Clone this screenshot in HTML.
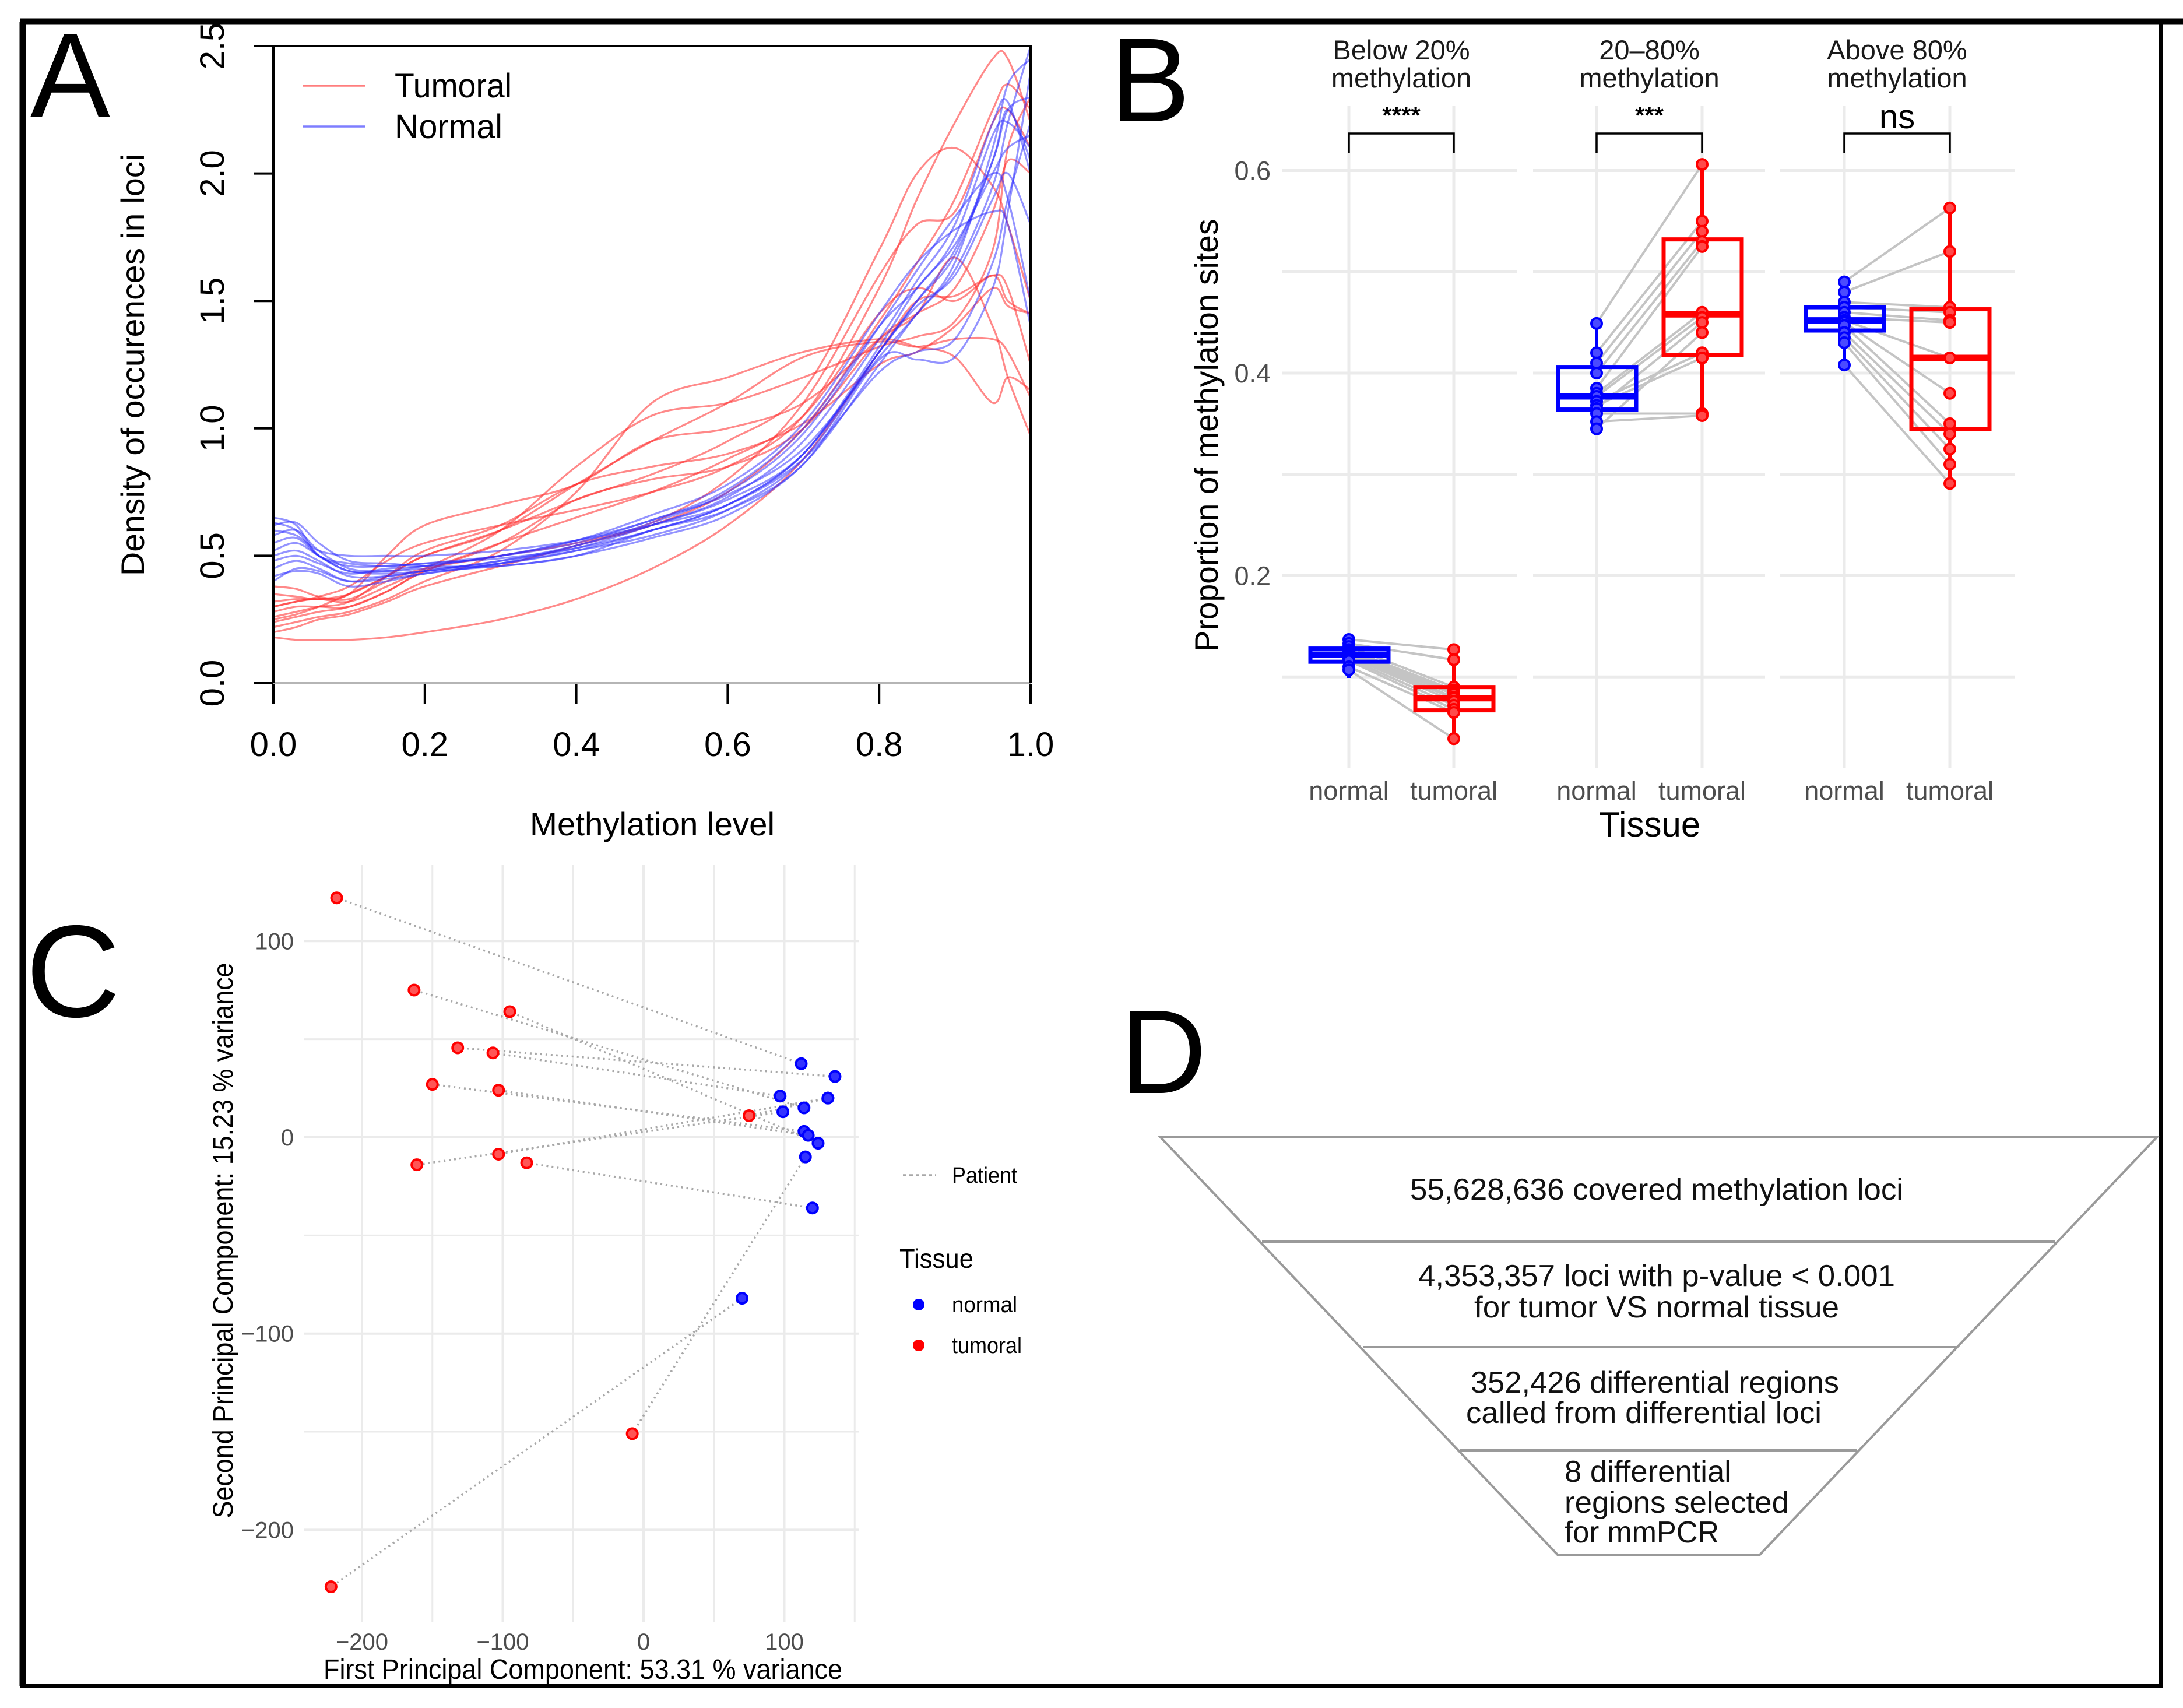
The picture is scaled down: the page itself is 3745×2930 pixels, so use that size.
<!DOCTYPE html>
<html><head><meta charset="utf-8"><style>
html,body{margin:0;padding:0;background:#fff;}
svg{display:block;font-family:"Liberation Sans",Arial,sans-serif;}
</style></head><body>
<svg id="fig" width="3745" height="2930" viewBox="0 0 3745 2930" xmlns="http://www.w3.org/2000/svg">
<rect x="0" y="0" width="3745" height="2930" fill="#fff"/>
<g stroke="#000" stroke-width="11" fill="none">
<line x1="34" y1="37" x2="3745" y2="37"/>
<line x1="39" y1="37" x2="39" y2="2893"/>
<line x1="34" y1="2892" x2="3710" y2="2892" stroke-width="6"/>
<line x1="3707" y1="37" x2="3707" y2="2895" stroke-width="6"/>
</g>
<text x="52" y="200" font-size="205">A</text>
<text x="1905" y="208" font-size="205">B</text>
<text x="44" y="1744" font-size="225">C</text>
<text x="1922" y="1875" font-size="205">D</text>
<g id="pA"></g>
<g id="pB"></g>
<g id="pC"></g>
<g id="pD">
<polygon points="1991,1951 3700,1951 3019,2667 2672,2667" fill="none" stroke="#9a9a9a" stroke-width="4"/>
<line x1="2165" y1="2130" x2="3526" y2="2130" stroke="#9a9a9a" stroke-width="4"/>
<line x1="2338" y1="2311" x2="3359" y2="2311" stroke="#9a9a9a" stroke-width="4"/>
<line x1="2505" y1="2488" x2="3186" y2="2488" stroke="#9a9a9a" stroke-width="4"/>
<g font-size="52" fill="#111" text-anchor="middle">
<text x="2842" y="2058" textLength="846" lengthAdjust="spacingAndGlyphs">55,628,636 covered methylation loci</text>
<text x="2842" y="2206" textLength="818" lengthAdjust="spacingAndGlyphs">4,353,357 loci with p-value &lt; 0.001</text>
<text x="2842" y="2260" textLength="626" lengthAdjust="spacingAndGlyphs">for tumor VS normal tissue</text>
<text x="2839" y="2389" textLength="632" lengthAdjust="spacingAndGlyphs">352,426 differential regions</text>
<text x="2820" y="2441" textLength="610" lengthAdjust="spacingAndGlyphs">called from differential loci</text>
</g>
<g font-size="52" fill="#111">
<text x="2684" y="2542" textLength="286" lengthAdjust="spacingAndGlyphs">8 differential</text>
<text x="2684" y="2595" textLength="385" lengthAdjust="spacingAndGlyphs">regions selected</text>
<text x="2684" y="2646" textLength="265" lengthAdjust="spacingAndGlyphs">for mmPCR</text>
</g>
</g>
</svg>
<script>
// ---------- Panel A data ----------
const densX = [0,0.03,0.06,0.1,0.15,0.2,0.3,0.4,0.5,0.6,0.7,0.8,0.85,0.9,0.95,0.97,1.0];
const normalCurves = [
 [0.62,0.63,0.55,0.48,0.47,0.46,0.46,0.5,0.57,0.66,0.86,1.25,1.45,1.62,1.95,2.2,2.5],
 [0.58,0.6,0.52,0.45,0.44,0.45,0.47,0.52,0.6,0.7,0.9,1.3,1.5,1.7,2.05,2.25,2.3],
 [0.5,0.52,0.48,0.42,0.42,0.44,0.48,0.53,0.62,0.73,0.95,1.35,1.58,1.8,2.2,2.28,2.0],
 [0.45,0.48,0.45,0.4,0.41,0.43,0.47,0.54,0.63,0.75,0.98,1.4,1.62,1.83,2.0,1.9,1.5],
 [0.65,0.62,0.5,0.46,0.46,0.47,0.5,0.55,0.64,0.74,0.92,1.28,1.45,1.65,2.1,2.35,2.45],
 [0.4,0.45,0.44,0.4,0.42,0.44,0.48,0.54,0.62,0.72,0.9,1.3,1.48,1.6,1.9,2.0,1.8],
 [0.52,0.55,0.5,0.44,0.44,0.46,0.5,0.56,0.64,0.76,1.0,1.4,1.55,1.75,2.15,2.2,2.1],
 [0.6,0.58,0.52,0.5,0.5,0.5,0.52,0.56,0.62,0.7,0.88,1.22,1.3,1.35,1.65,1.9,2.2],
 [0.55,0.57,0.5,0.44,0.43,0.44,0.46,0.5,0.6,0.68,0.86,1.27,1.27,1.28,1.55,1.85,2.4],
 [0.48,0.5,0.47,0.43,0.45,0.46,0.5,0.56,0.66,0.78,1.02,1.45,1.65,1.78,1.85,1.8,1.4],
 [0.63,0.6,0.5,0.47,0.46,0.47,0.49,0.53,0.6,0.7,0.9,1.32,1.55,1.72,2.0,2.1,2.15],
 [0.42,0.44,0.43,0.38,0.4,0.43,0.47,0.52,0.58,0.68,0.88,1.3,1.5,1.68,2.05,2.25,2.05]
];
const tumoralCurves = [
 [0.3,0.32,0.34,0.38,0.48,0.55,0.62,0.68,0.75,0.85,1.05,1.55,1.9,2.2,2.45,2.45,2.2],
 [0.25,0.27,0.3,0.35,0.42,0.5,0.6,0.72,0.82,0.95,1.15,1.7,2.0,2.1,1.95,1.8,1.5],
 [0.18,0.17,0.17,0.17,0.18,0.2,0.25,0.33,0.45,0.62,0.88,1.3,1.5,1.52,1.6,1.55,1.25],
 [0.35,0.34,0.33,0.35,0.5,0.62,0.7,0.78,0.95,1.0,1.1,1.35,1.45,1.67,1.4,1.2,0.97],
 [0.3,0.32,0.33,0.32,0.38,0.45,0.6,0.85,1.05,1.1,1.2,1.32,1.36,1.42,1.7,2.1,2.3],
 [0.28,0.3,0.3,0.3,0.36,0.44,0.55,0.72,0.8,0.85,1.0,1.35,1.45,1.55,1.85,2.05,2.0],
 [0.22,0.24,0.26,0.28,0.33,0.4,0.52,0.75,1.1,1.2,1.3,1.35,1.32,1.28,1.1,1.2,1.15],
 [0.32,0.33,0.33,0.35,0.42,0.5,0.6,0.78,0.95,1.1,1.28,1.34,1.32,1.35,1.35,1.3,1.12],
 [0.24,0.26,0.28,0.3,0.36,0.44,0.55,0.65,0.75,0.88,1.05,1.45,1.55,1.5,1.6,1.5,1.45],
 [0.38,0.37,0.34,0.33,0.4,0.45,0.5,0.55,0.63,0.8,1.1,1.6,1.8,1.85,2.2,2.25,2.1],
 [0.26,0.28,0.3,0.32,0.42,0.52,0.62,0.78,0.85,0.9,1.02,1.25,1.3,1.4,1.55,1.48,1.45],
 [0.2,0.22,0.25,0.27,0.32,0.38,0.46,0.54,0.62,0.75,1.0,1.42,1.65,1.9,2.25,2.35,2.25]
];
const aXTicks = [0,0.2,0.4,0.6,0.8,1.0];
const aXTickLabels = ["0.0","0.2","0.4","0.6","0.8","1.0"];
const aYTicks = [0,0.5,1.0,1.5,2.0,2.5];
const aYTickLabels = ["0.0","0.5","1.0","1.5","2.0","2.5"];

// ---------- Panel B data ----------
const facetTitles1 = ["Below 20%","20\u201380%","Above 80%"];
const facetSig = ["****","***","ns"];
const bNormalPts = [
 [0.137,0.133,0.13,0.127,0.125,0.123,0.122,0.121,0.12,0.118,0.116,0.11,0.107],
 [0.449,0.42,0.41,0.40,0.385,0.38,0.377,0.372,0.368,0.365,0.36,0.352,0.345],
 [0.49,0.48,0.47,0.465,0.46,0.455,0.452,0.45,0.447,0.44,0.435,0.43,0.408]
];
const bTumoralPts = [
 [0.127,0.117,0.09,0.087,0.085,0.083,0.08,0.079,0.076,0.072,0.068,0.065,0.039],
 [0.606,0.55,0.54,0.53,0.525,0.46,0.455,0.42,0.415,0.45,0.36,0.358,0.44],
 [0.563,0.52,0.465,0.46,0.452,0.45,0.415,0.38,0.35,0.34,0.325,0.31,0.291]
];
const bNormalBox = [ // lo, q1, median, q3, hi
 [0.099,0.115,0.122,0.128,0.141],
 [0.345,0.364,0.377,0.406,0.449],
 [0.408,0.442,0.452,0.465,0.49]
];
const bTumoralBox = [
 [0.039,0.067,0.079,0.090,0.127],
 [0.358,0.418,0.458,0.532,0.606],
 [0.291,0.345,0.415,0.463,0.563]
];
const bYTicks = [0.2,0.4,0.6];
const bYTickLabels = ["0.2","0.4","0.6"];
const bYGrid = [0.1,0.2,0.3,0.4,0.5,0.6];
const bCategories = ["normal","tumoral"];

// ---------- Panel C data ----------
const pcaNormalX = [112,136,97,131,99,114,114,117,124,115,120,70,131];
const pcaNormalY = [37.5,31,21,20,13,15,3,1,-3,-10,-36,-82,20];
const pcaTumorX = [-218,-132,-107,75,-161,-163,-150,-103,-95,-8,-83,-222,-103];
const pcaTumorY = [122,45.6,43,11,-14,75,27,24,64,-151,-13,-229,-8.6];
const cXTicks = [-200,-100,0,100];
const cXTickLabels = ["\u2212200","\u2212100","0","100"];
const cYTicks = [-200,-100,0,100];
const cYTickLabels = ["\u2212200","\u2212100","0","100"];

const NS = "http://www.w3.org/2000/svg";
function mk(parent, tag, attrs, text){
  const el = document.createElementNS(NS, tag);
  for (const k in attrs) el.setAttribute(k, attrs[k]);
  if (text !== undefined) el.textContent = text;
  parent.appendChild(el);
  return el;
}
function smoothPath(pts){
  let d = "M" + pts[0][0].toFixed(1) + "," + pts[0][1].toFixed(1);
  for (let i=0;i<pts.length-1;i++){
    const p0 = pts[Math.max(0,i-1)], p1 = pts[i], p2 = pts[i+1], p3 = pts[Math.min(pts.length-1,i+2)];
    const c1x = p1[0] + (p2[0]-p0[0])/6, c1y = p1[1] + (p2[1]-p0[1])/6;
    const c2x = p2[0] - (p3[0]-p1[0])/6, c2y = p2[1] - (p3[1]-p1[1])/6;
    d += " C" + c1x.toFixed(1)+","+c1y.toFixed(1)+" "+c2x.toFixed(1)+","+c2y.toFixed(1)+" "+p2[0].toFixed(1)+","+p2[1].toFixed(1);
  }
  return d;
}

// ================= Panel A =================
(function(){
  const g = document.getElementById('pA');
  const X0=469, X1=1768, Y0=1172, Y1=79;
  const ax = v => X0 + v*(X1-X0);
  const ay = v => Y0 - v/2.5*(Y0-Y1);
  const defs = mk(g,'defs',{});
  const cp = mk(defs,'clipPath',{id:'clipA'});
  mk(cp,'rect',{x:X0,y:Y1,width:X1-X0,height:Y0-Y1});
  let el = mk(g,'line',{x1:X0,y1:Y0,x2:X1,y2:Y0,stroke:'#b5b5b5','stroke-width':4});
  
  
  const cg = mk(g,'g',{'clip-path':'url(#clipA)',fill:'none','stroke-width':3.2});
  tumoralCurves.forEach((c,i)=>{
    const p = mk(cg,'path',{d:smoothPath(c.map((v,j)=>[ax(densX[j]),ay(v)])),stroke:'rgba(255,40,40,0.55)'});
    
    
  });
  normalCurves.forEach((c,i)=>{
    const p = mk(cg,'path',{d:smoothPath(c.map((v,j)=>[ax(densX[j]),ay(v)])),stroke:'rgba(40,40,255,0.5)'});
    
    
  });
  el = mk(g,'path',{d:`M${X0},${Y0} L${X0},${Y1} L${X1},${Y1} L${X1},${Y0}`,fill:'none',stroke:'#000','stroke-width':4});
  
  
  aXTicks.forEach((t,i)=>{
    let tk = mk(g,'line',{x1:ax(t),y1:Y0+2,x2:ax(t),y2:Y0+35,stroke:'#000','stroke-width':4});
    
    
    let lb = mk(g,'text',{x:ax(t),y:1297,'font-size':58,'text-anchor':'middle',fill:'#000'},aXTickLabels[i]);
    
    
  });
  aYTicks.forEach((t,i)=>{
    let tk = mk(g,'line',{x1:X0-33,y1:ay(t),x2:X0,y2:ay(t),stroke:'#000','stroke-width':4});
    
    
    let lb = mk(g,'text',{x:0,y:0,'font-size':58,'text-anchor':'middle',transform:`translate(384,${ay(t)}) rotate(-90)`,fill:'#000'},aYTickLabels[i]);
    
    
  });
  el = mk(g,'text',{x:1119,y:1433,'font-size':56,'text-anchor':'middle',textLength:420,lengthAdjust:'spacingAndGlyphs'},'Methylation level');
  
  
  el = mk(g,'text',{x:0,y:0,'font-size':56,'text-anchor':'middle',transform:'translate(247,626) rotate(-90)',textLength:724,lengthAdjust:'spacingAndGlyphs'},'Density of occurences in loci');
  
  
  el = mk(g,'line',{x1:519,y1:147,x2:627,y2:147,stroke:'rgba(255,40,40,0.6)','stroke-width':3.5});
  
  
  el = mk(g,'text',{x:677,y:167,'font-size':58,textLength:201,lengthAdjust:'spacingAndGlyphs'},'Tumoral');
  
  
  el = mk(g,'line',{x1:519,y1:217,x2:627,y2:217,stroke:'rgba(40,40,255,0.6)','stroke-width':3.5});
  
  
  el = mk(g,'text',{x:677,y:237,'font-size':58,textLength:185,lengthAdjust:'spacingAndGlyphs'},'Normal');
  
  
})();

// ================= Panel B =================
(function(){
  const g = document.getElementById('pB');
  const by = v => 640 - (v-0.4)/0.2*347.5;
  const facetL = [2200,2630,3054], facetR = [2603,3028,3456];
  const catX = [[2314,2494],[2739,2920],[3164,3345]];
  for (let f=0; f<3; f++){
    bYGrid.forEach(v=>{
      let gl = mk(g,'line',{x1:facetL[f],y1:by(v),x2:facetR[f],y2:by(v),stroke:'#ebebeb','stroke-width':5});
      
      
    });
    catX[f].forEach(x=>{
      let gl = mk(g,'line',{x1:x,y1:182,x2:x,y2:1317,stroke:'#ebebeb','stroke-width':5});
      
      
    });
  }
  for (let f=0; f<3; f++){
    const cx = (catX[f][0]+catX[f][1])/2;
    let t = mk(g,'text',{x:cx,y:102,'font-size':47,'text-anchor':'middle',fill:'#1a1a1a'},facetTitles1[f]+" ");
    
    
    t = mk(g,'text',{x:cx,y:150,'font-size':47,'text-anchor':'middle',fill:'#1a1a1a'},'methylation');
    
    
    const isNs = facetSig[f]==='ns';
    t = mk(g,'text',{x:cx,y:isNs?220:212,'font-size':isNs?58:42,'text-anchor':'middle',fill:'#000','font-weight':isNs?'normal':'bold'},facetSig[f]);
    
    
    let br = mk(g,'path',{d:`M${catX[f][0]},263 L${catX[f][0]},229 L${catX[f][1]},229 L${catX[f][1]},263`,fill:'none',stroke:'#000','stroke-width':3.5});
    
    
    // pair lines
    bNormalPts[f].forEach((v,i)=>{
      let pl = mk(g,'line',{x1:catX[f][0],y1:by(v),x2:catX[f][1],y2:by(bTumoralPts[f][i]),stroke:'#c4c4c4','stroke-width':4});
      
      
    });
    // boxes
    [[bNormalBox[f],'#0000ff',catX[f][0]],[bTumoralBox[f],'#ff0000',catX[f][1]]].forEach(([s,col,x])=>{
      let w = mk(g,'line',{x1:x,y1:by(s[0]),x2:x,y2:by(s[1]),stroke:col,'stroke-width':6});
      
      
      w = mk(g,'line',{x1:x,y1:by(s[3]),x2:x,y2:by(s[4]),stroke:col,'stroke-width':6});
      
      
      let b = mk(g,'rect',{x:x-66,y:by(s[3]),width:134,height:by(s[1])-by(s[3]),fill:'none',stroke:col,'stroke-width':7});
      
      
      let m = mk(g,'line',{x1:x-66,y1:by(s[2]),x2:x+68,y2:by(s[2]),stroke:col,'stroke-width':11});
      
      
    });
    bNormalPts[f].forEach(v=>{
      let c = mk(g,'circle',{cx:catX[f][0],cy:by(v),r:9,fill:'#4a4aff',stroke:'#0000ff','stroke-width':4});
      
      
    });
    bTumoralPts[f].forEach(v=>{
      let c = mk(g,'circle',{cx:catX[f][1],cy:by(v),r:9,fill:'#ff4a4a',stroke:'#ff0000','stroke-width':4});
      
      
    });
    catX[f].forEach((x,i)=>{
      let l = mk(g,'text',{x:x,y:1372,'font-size':45,'text-anchor':'middle',fill:'#4d4d4d'},bCategories[i]);
      
      
    });
  }
  bYTicks.forEach((v,i)=>{
    let l = mk(g,'text',{x:2180,y:by(v)+16,'font-size':45,'text-anchor':'end',fill:'#4d4d4d'},bYTickLabels[i]);
    
    
  });
  let t = mk(g,'text',{x:0,y:0,'font-size':56,'text-anchor':'middle',transform:'translate(2089,747) rotate(-90)',textLength:743,lengthAdjust:'spacingAndGlyphs'},'Proportion of methylation sites');
  
  
  t = mk(g,'text',{x:2830,y:1435,'font-size':60,'text-anchor':'middle'},'Tissue');
  
  
})();

// ================= Panel C =================
(function(){
  const g = document.getElementById('pC');
  const cx = v => 1104 + v*2.415;
  const cy = v => 1951 - v*3.367;
  for (let v=-200; v<=150; v+=50){
    let gl = mk(g,'line',{x1:cx(v),y1:cy(138.7),x2:cx(v),y2:cy(-246.8),stroke:'#ebebeb','stroke-width':v%100===0?4:3});
    
    
  }
  for (let v=-200; v<=100; v+=50){
    let gl = mk(g,'line',{x1:cx(-241),y1:cy(v),x2:cx(153),y2:cy(v),stroke:'#ebebeb','stroke-width':v%100===0?4:3});
    
    
  }
  pcaNormalX.forEach((x,i)=>{
    let l = mk(g,'line',{x1:cx(x),y1:cy(pcaNormalY[i]),x2:cx(pcaTumorX[i]),y2:cy(pcaTumorY[i]),stroke:'#a8a8a8','stroke-width':3.5,'stroke-dasharray':'3 6'});
    
    
  });
  pcaNormalX.forEach((x,i)=>{
    let c = mk(g,'circle',{cx:cx(x),cy:cy(pcaNormalY[i]),r:9,fill:'#3333ff',stroke:'#0000ff','stroke-width':4});
    
    
  });
  pcaTumorX.forEach((x,i)=>{
    let c = mk(g,'circle',{cx:cx(x),cy:cy(pcaTumorY[i]),r:9,fill:'#ff5555',stroke:'#ff0000','stroke-width':4});
    
    
  });
  cXTicks.forEach((v,i)=>{
    let l = mk(g,'text',{x:cx(v),y:2830,'font-size':40,'text-anchor':'middle',fill:'#4d4d4d'},cXTickLabels[i]);
    
    
  });
  cYTicks.forEach((v,i)=>{
    let l = mk(g,'text',{x:504,y:cy(v)+14,'font-size':40,'text-anchor':'end',fill:'#4d4d4d'},cYTickLabels[i]);
    
    
  });
  let t = mk(g,'text',{x:1000,y:2880,'font-size':48,'text-anchor':'middle',textLength:890,lengthAdjust:'spacingAndGlyphs'},'First Principal Component:  53.31 % variance');
  
  
  t = mk(g,'text',{x:0,y:0,'font-size':48,'text-anchor':'middle',transform:'translate(399,2128) rotate(-90)',textLength:953,lengthAdjust:'spacingAndGlyphs'},'Second Principal Component:  15.23 % variance');
  
  
  t = mk(g,'line',{x1:1549,y1:2016,x2:1606,y2:2016,stroke:'#a8a8a8','stroke-width':3.5,'stroke-dasharray':'6 5'});
  
  
  t = mk(g,'text',{x:1633,y:2029,'font-size':38,textLength:112,lengthAdjust:'spacingAndGlyphs'},'Patient');
  
  
  t = mk(g,'text',{x:1543,y:2175,'font-size':46,textLength:127,lengthAdjust:'spacingAndGlyphs'},'Tissue');
  
  
  t = mk(g,'circle',{cx:1576,cy:2238,r:10,fill:'#0000ff'});
  
  
  t = mk(g,'text',{x:1633,y:2251,'font-size':38,textLength:112,lengthAdjust:'spacingAndGlyphs'},'normal');
  
  
  t = mk(g,'circle',{cx:1576,cy:2308,r:10,fill:'#ff0000'});
  
  
  t = mk(g,'text',{x:1633,y:2321,'font-size':38,textLength:120,lengthAdjust:'spacingAndGlyphs'},'tumoral');
  
  
})();
</script>
</body></html>
